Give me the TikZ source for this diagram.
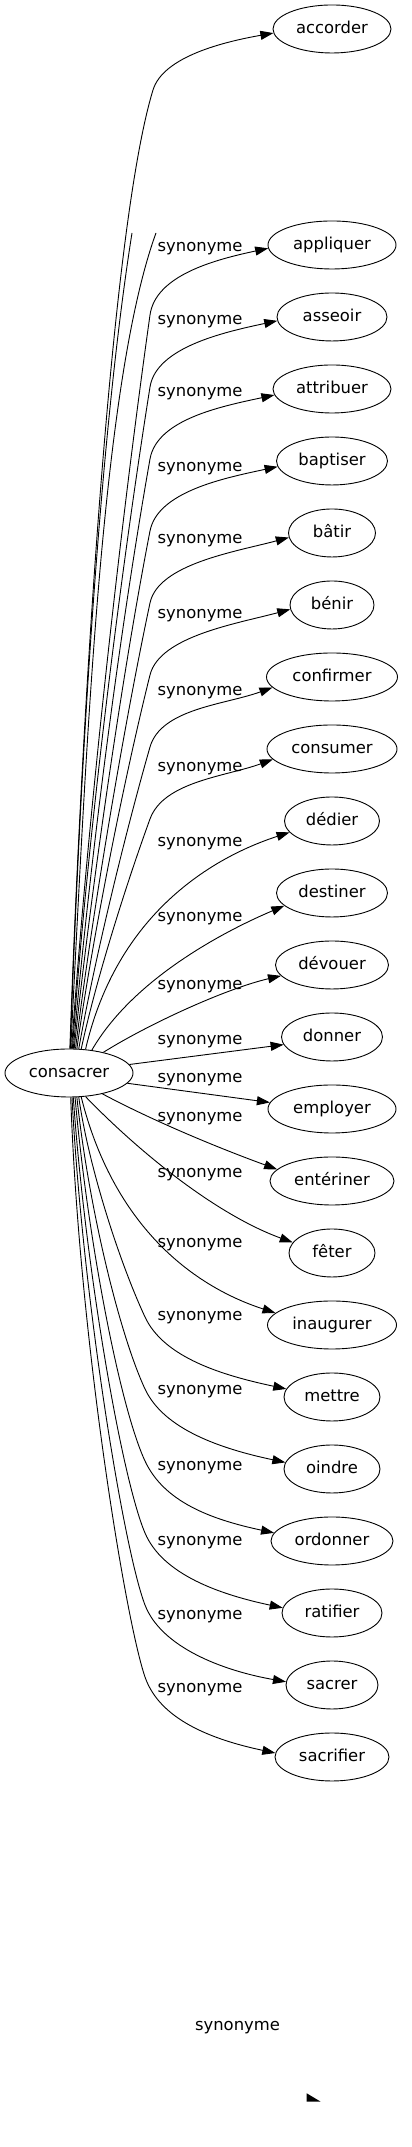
\documentclass[tikz,border=0pt]{standalone}
\usepackage{fontspec}
\setmainfont{DejaVu Sans}
\usetikzlibrary{arrows.meta,shapes.geometric}

\tikzset{
  word/.style={draw, ellipse, line width=0.9pt, inner sep=0pt, minimum height=48pt,
    font=\fontsize{16.4}{19}\selectfont, text height=11.9pt, text depth=3.6pt},
  rel/.style={anchor=west, inner sep=0pt, font=\fontsize{16.4}{19}\selectfont,
    text height=11.9pt, text depth=3.6pt},
  wire/.style={line width=0.9pt},
  syn/.style={wire, -{Triangle[length=13pt,width=9pt]}},
}

\begin{document}
\begin{tikzpicture}[x=1pt,y=1pt]
            \useasboundingbox (0,0) rectangle (412,2147);

            % the word and its synonyms
            \node[word, minimum width=128pt] (consacrer) at (69,1074) {consacrer};
            \node[word, minimum width=118pt] (accorder)  at (332,2118) {accorder};
            \node[word, minimum width=128pt] (appliquer) at (332,1902) {appliquer};
            \node[word, minimum width=110pt] (asseoir)   at (332,1830) {asseoir};
            \node[word, minimum width=118pt] (attribuer) at (332,1758) {attribuer};
            \node[word, minimum width=111pt] (baptiser)  at (332,1686) {baptiser};
            \node[word, minimum width=87pt]  (batir)     at (332,1614) {bâtir};
            \node[word, minimum width=84pt]  (benir)     at (332,1542) {bénir};
            \node[word, minimum width=131pt] (confirmer) at (332,1470) {confirmer};
            \node[word, minimum width=130pt] (consumer)  at (332,1398) {consumer};
            \node[word, minimum width=95pt]  (dedier)    at (332,1326) {dédier};
            \node[word, minimum width=111pt] (destiner)  at (332,1254) {destiner};
            \node[word, minimum width=113pt] (devouer)   at (332,1182) {dévouer};
            \node[word, minimum width=101pt] (donner)    at (332,1110) {donner};
            \node[word, minimum width=128pt] (employer)  at (332,1038) {employer};
            \node[word, minimum width=124pt] (enteriner) at (332,966)  {entériner};
            \node[word, minimum width=86pt]  (feter)     at (332,894)  {fêter};
            \node[word, minimum width=129pt] (inaugurer) at (332,822)  {inaugurer};
            \node[word, minimum width=96pt]  (mettre)    at (332,750)  {mettre};
            \node[word, minimum width=96pt]  (oindre)    at (332,678)  {oindre};
            \node[word, minimum width=122pt] (ordonner)  at (332,606)  {ordonner};
            \node[word, minimum width=100pt] (ratifier)  at (332,534)  {ratifier};
            \node[word, minimum width=92pt]  (sacrer)    at (332,462)  {sacrer};
            \node[word, minimum width=114pt] (sacrifier) at (332,390)  {sacrifier};

            % edge labels
            \node[rel] (l1)  at (157.5,1900) {synonyme};
            \node[rel] (l2)  at (157.5,1827) {synonyme};
            \node[rel] (l3)  at (157.5,1755) {synonyme};
            \node[rel] (l4)  at (157.5,1680) {synonyme};
            \node[rel] (l5)  at (157.5,1608) {synonyme};
            \node[rel] (l6)  at (157.5,1533) {synonyme};
            \node[rel] (l7)  at (157.5,1456) {synonyme};
            \node[rel] (l8)  at (157.5,1380) {synonyme};
            \node[rel] (l9)  at (157.5,1305) {synonyme};
            \node[rel] (l10) at (157.5,1230) {synonyme};
            \node[rel] (l11) at (157.5,1162) {synonyme};
            \node[rel] (l12) at (157.5,1107) {synonyme};
            \node[rel] (l13) at (157.5,1069) {synonyme};
            \node[rel] (l14) at (157.5,1030) {synonyme};
            \node[rel] (l15) at (157.5,974)  {synonyme};
            \node[rel] (l16) at (157.5,904)  {synonyme};
            \node[rel] (l17) at (157.5,831)  {synonyme};
            \node[rel] (l18) at (157.5,757)  {synonyme};
            \node[rel] (l19) at (157.5,681)  {synonyme};
            \node[rel] (l20) at (157.5,606)  {synonyme};
            \node[rel] (l21) at (157.5,532)  {synonyme};
            \node[rel] (l22) at (157.5,459)  {synonyme};
            \node[rel, anchor=center] (l23) at (237.5,121) {synonyme};

            % lines cut off at the top
            \coordinate (cutA) at (132,1914);
            \coordinate (cutB) at (156,1914);
            \draw[wire] (consacrer.87) .. controls +(88:300) and +(-99:200) .. (cutA);
            \draw[wire] (consacrer.86) .. controls +(87:300) and +(-110:160) .. (cutB);

            % upwards
            \draw[syn] (consacrer.88) .. controls +(88:300) and +(-107:150) .. (153,2057) .. controls +(73:35) and +(190:50) .. (accorder.184);
            \draw[syn] (consacrer.84) .. controls +(86:220) and +(-98:220) .. (150,1832) .. controls +(82:40) and +(192:55) .. (appliquer.183);
            \draw[syn] (consacrer.82) .. controls +(86:200) and +(-99:200) .. (150,1760) .. controls +(81:40) and +(192:55) .. (asseoir.184);
            \draw[syn] (consacrer.80) .. controls +(85:180) and +(-100:180) .. (150,1688) .. controls +(80:40) and +(192:55) .. (attribuer.186);
            \draw[syn] (consacrer.78) .. controls +(84:150) and +(-101:150) .. (150,1616) .. controls +(79:40) and +(192:55) .. (baptiser.186);
            \draw[syn] (consacrer.75) .. controls +(83:130) and +(-102:130) .. (150,1544) .. controls +(78:40) and +(195:55) .. (batir.186);
            \draw[syn] (consacrer.72) .. controls +(82:110) and +(-104:110) .. (150,1472) .. controls +(76:40) and +(195:55) .. (benir.186);
            \draw[syn] (consacrer.68) .. controls +(80:90) and +(-106:90) .. (150,1400) .. controls +(74:40) and +(200:50) .. (confirmer.190);
            \draw[syn] (consacrer.63) .. controls +(78:70) and +(-110:70) .. (150,1328) .. controls +(70:40) and +(200:50) .. (consumer.190);
            \draw[syn] (consacrer.55) .. controls +(77:140) and +(198:80) .. (dedier.195);
            \draw[syn] (consacrer.45) .. controls +(60:80) and +(203:70) .. (destiner.195);
            \draw[syn] (consacrer.31) .. controls +(32:55) and +(193:55) .. (devouer.192);
            \draw[syn] (consacrer.8) -- (donner.189);

            % downwards
            \draw[syn] (consacrer.350) -- (employer.174);
            \draw[syn] (consacrer.328) .. controls +(-28:60) and +(160:60) .. (enteriner.168);
            \draw[syn] (consacrer.305) .. controls +(-46:80) and +(160:80) .. (feter.165);
            \draw[syn] (consacrer.297) .. controls +(-76:130) and +(162:90) .. (inaugurer.168);
            \draw[syn] (consacrer.292) .. controls +(-82:70) and +(115:60) .. (145,830) .. controls +(-65:45) and +(168:65) .. (mettre.170);
            \draw[syn] (consacrer.288) .. controls +(-84:110) and +(115:60) .. (145,758) .. controls +(-65:45) and +(168:65) .. (oindre.172);
            \draw[syn] (consacrer.284) .. controls +(-85:140) and +(115:60) .. (145,686) .. controls +(-65:45) and +(168:65) .. (ordonner.172);
            \draw[syn] (consacrer.280) .. controls +(-86:170) and +(113:60) .. (145,614) .. controls +(-67:45) and +(168:65) .. (ratifier.174);
            \draw[syn] (consacrer.277) .. controls +(-87:200) and +(111:60) .. (145,542) .. controls +(-69:45) and +(170:65) .. (sacrer.176);
            \draw[syn] (consacrer.274) .. controls +(-88:240) and +(109:60) .. (145,470) .. controls +(-71:45) and +(168:65) .. (sacrifier.176);

            % lone arrow head
            \fill (306.7,53.7) -- (320.7,45.3) -- (306.7,45.3) -- cycle;
        \end{tikzpicture}
\end{document}
